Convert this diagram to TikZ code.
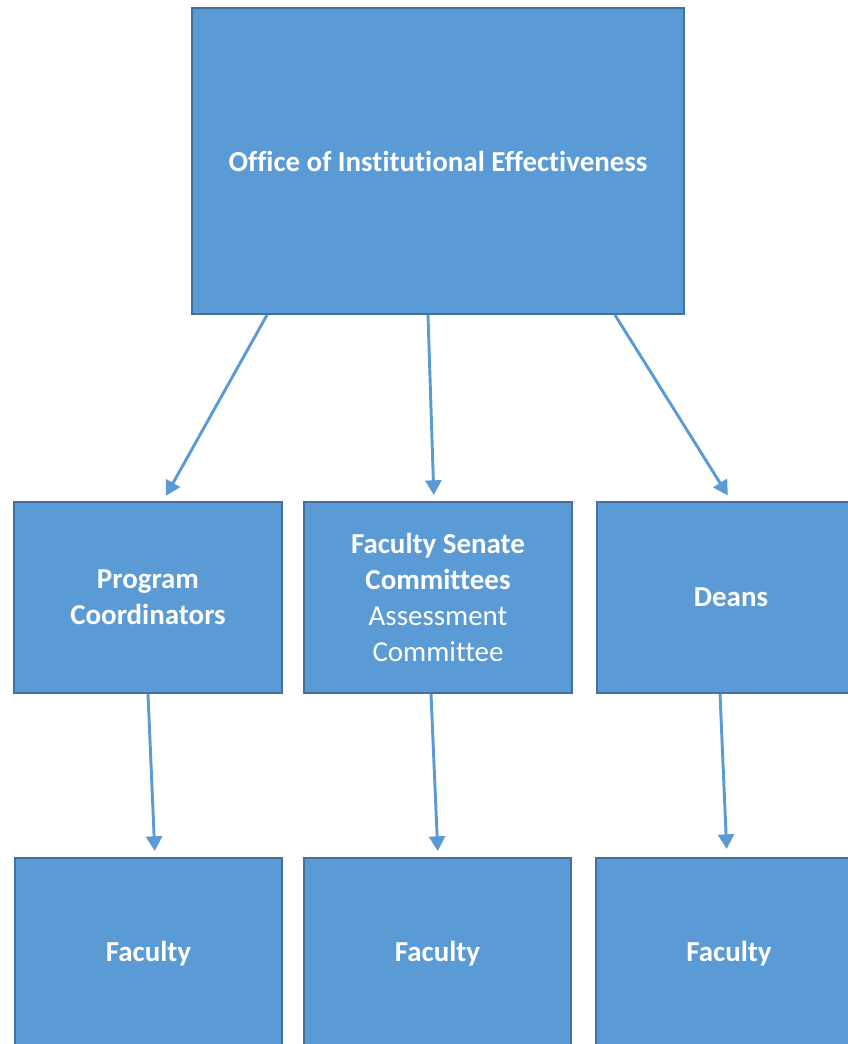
\documentclass[tikz,border=0pt]{standalone}
\usepackage{fontspec}
\setmainfont{Carlito}[Ligatures={NoCommon}]
\usetikzlibrary{arrows.meta,calc}
\definecolor{boxfill}{RGB}{91,155,213}
\definecolor{boxline}{RGB}{65,113,156}
\tikzset{
  orgbox/.style={draw=boxline, line width=1.5pt, fill=boxfill, text=white,
    align=center, font=\fontsize{21.7}{26.8}\selectfont, inner sep=0pt},
  midbox/.style={orgbox, minimum width=201pt, minimum height=143.25pt},
  lowbox/.style={orgbox, minimum width=200.25pt, minimum height=143.25pt},
  link/.style={draw=boxfill, line width=2.2pt, -{Triangle[length=11pt,width=12pt]}, shorten >=4.5pt}
}
\begin{document}
\begin{tikzpicture}[x=0.75pt,y=0.75pt,yscale=-1,xscale=1]
\path[use as bounding box, clip] (0,0) rectangle (848,1044);

%Shape: Rectangle [top]
\node[orgbox, minimum width=369pt, minimum height=229.5pt] (oie) at (438,161) {\bfseries Office of Institutional Effectiveness};

%Shape: Rectangle [middle row]
\node[midbox] (coord) at (148,597.5) {\bfseries Program\\\bfseries Coordinators};
\node[midbox] (senate) at (438,597.5) {\bfseries Faculty Senate\\\bfseries Committees\\Assessment\\Committee};
\node[midbox] (deans) at (731,597) {\bfseries Deans};

%Shape: Rectangle [bottom row]
\node[lowbox] (facA) at (148.5,953.5) {\bfseries Faculty};
\node[lowbox] (facB) at (437.5,953.5) {\bfseries Faculty};
\node[lowbox] (facC) at (729,953.5) {\bfseries Faculty};

%Straight Lines [top to middle]
\draw[link] ($(oie.south)+(-171,0)$) -- ($(coord.north)+(15,0)$);
\draw[link] ($(oie.south)+(-10,0)$) -- ($(senate.north)+(-4,0)$);
\draw[link] ($(oie.south)+(177,0)$) -- (deans.north);

%Straight Lines [middle to bottom]
\draw[link] (coord.south) -- ($(facA.north)+(6.5,0)$);
\draw[link] ($(senate.south)+(-7,0)$) -- ($(facB.north)+(0.5,0)$);
\draw[link, shorten >=6pt] ($(deans.south)+(-11,0)$) -- ($(facC.north)+(-2,0)$);

\end{tikzpicture}
\end{document}
